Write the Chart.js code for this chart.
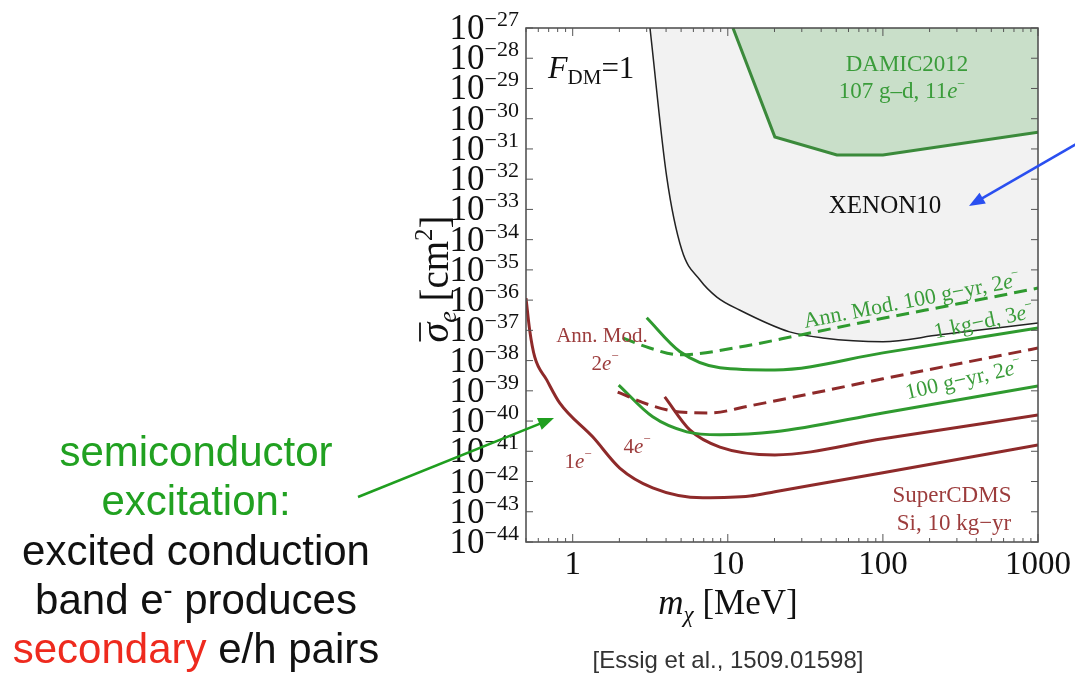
<!DOCTYPE html>
<html>
<head>
<meta charset="utf-8">
<script src="https://cdn.jsdelivr.net/npm/chart.js@4.4.0/dist/chart.umd.min.js"></script>
<style>
  html, body { margin: 0; padding: 0; background: #fff; }
  #wrap { width: 1075px; height: 679px; }
</style>
</head>
<body>
<div id="wrap"><canvas id="limitChart" width="1075" height="679"></canvas></div>
<script>
// assi
const xTickValues = [1, 10, 100, 1000];
const xTickLabels = ['1', '10', '100', '1000'];
const xMinorTicks = [0.5, 0.6, 0.7, 0.8, 0.9, 2, 3, 4, 5, 6, 7, 8, 9, 20, 30, 40, 50, 60, 70, 80, 90, 200, 300, 400, 500, 600, 700, 800, 900];
const yTickExponents = [-27, -28, -29, -30, -31, -32, -33, -34, -35, -36, -37, -38, -39, -40, -41, -42, -43, -44];

// XENON10 (zona grigia)
const xenonMass = [3.15, 4.04, 5.05, 6.6, 8.5, 11.9, 25, 41, 100, 233, 1000];
const xenonSigma = [1e-27, 1.17e-32, 4.6e-35, 4.7e-36, 1.26e-36, 4.7e-37, 8.9e-38, 5.6e-38, 4.2e-38, 7.1e-38, 1.74e-37];

// DAMIC2012
const damicMass = [10.8, 20.1, 50.5, 100, 1000];
const damicSigma = [1e-27, 2.5e-31, 6.3e-32, 6.3e-32, 3.6e-31];

// Ann. Mod. 100 g-yr, 2e (verde tratteggiata)
const amGreenMass = [2.1, 3.14, 4.9, 11.9, 30, 100, 300, 1000];
const amGreenSigma = [5.6e-38, 2.6e-38, 1.55e-38, 2.8e-38, 7.2e-38, 2.5e-37, 7.4e-37, 2.5e-36];

// 1 kg-d, 3e (verde)
const kgdMass = [3.0, 4.9, 8.9, 20.1, 100, 1000];
const kgdSigma = [2.6e-37, 2.0e-38, 5.8e-39, 4.9e-39, 1.8e-38, 1.2e-37];

// Ann. Mod. 2e (rossa tratteggiata)
const amRedMass = [1.95, 3.14, 4.9, 7.65, 13.9, 100, 1000];
const amRedSigma = [9.1e-40, 3.4e-40, 2.0e-40, 1.86e-40, 3.2e-40, 2.5e-39, 2.6e-38];

// 100 g-yr, 2e (verde)
const gyrMass = [1.98, 3.28, 5.44, 8.9, 20.1, 100, 1000];
const gyrSigma = [1.55e-39, 1.38e-40, 4.4e-41, 3.5e-41, 4.4e-41, 1.86e-40, 1.45e-39];

// SuperCDMS 4e
const cdms4Mass = [3.92, 5.69, 8.9, 20.1, 100, 1000];
const cdms4Sigma = [6.3e-40, 5.1e-41, 1.38e-41, 7.6e-42, 2.6e-41, 1.58e-40];

// SuperCDMS 1e
const cdms1Mass = [0.5, 0.528, 0.569, 0.68, 0.824, 1.35, 2.01, 3.28, 6.9, 13.9, 20.1, 100, 1000];
const cdms1Sigma = [1.17e-36, 1.02e-37, 1.32e-38, 2.3e-39, 4.0e-40, 2.95e-41, 2.8e-42, 6.2e-43, 2.9e-43, 3.3e-43, 4.6e-43, 1.95e-42, 1.62e-41];

const GREEN = '#2f9a2f';
const DARKGREEN = '#3b8a3b';
const RED = '#8e2a2a';
const REDTXT = '#9c3c3c';
const GREENTXT = '#3a9c3a';

function pts(m, s) {
  return m.map((v, i) => ({ x: v, y: s[i] }));
}

const serif = '"Liberation Serif", "DejaVu Serif", serif';
const sans = '"Liberation Sans", "DejaVu Sans", sans-serif';
function f(size, italic) { return (italic ? 'italic ' : '') + size + 'px ' + serif; }

// runs: [testo, size, italic, dy, colore]
function drawRuns(ctx, x, y, runs, align) {
  let w = 0;
  runs.forEach(r => { ctx.font = f(r[1], r[2]); w += ctx.measureText(r[0]).width; });
  let cx = align === 'center' ? x - w / 2 : (align === 'right' ? x - w : x);
  ctx.textAlign = 'left';
  runs.forEach(r => {
    ctx.font = f(r[1], r[2]);
    if (r[4]) ctx.fillStyle = r[4];
    ctx.fillText(r[0], cx, y + (r[3] || 0));
    cx += ctx.measureText(r[0]).width;
  });
  return w;
}

function rotRuns(ctx, x, y, deg, runs) {
  ctx.save();
  ctx.translate(x, y);
  ctx.rotate(deg * Math.PI / 180);
  drawRuns(ctx, 0, 0, runs, 'center');
  ctx.restore();
}

function arrow(ctx, x1, y1, x2, y2, color, w) {
  const a = Math.atan2(y2 - y1, x2 - x1), h = 17;
  ctx.strokeStyle = color; ctx.fillStyle = color; ctx.lineWidth = w;
  ctx.beginPath();
  ctx.moveTo(x1, y1);
  ctx.lineTo(x2 - h * 0.8 * Math.cos(a), y2 - h * 0.8 * Math.sin(a));
  ctx.stroke();
  ctx.beginPath();
  ctx.moveTo(x2, y2);
  ctx.lineTo(x2 - h * Math.cos(a - 0.38), y2 - h * Math.sin(a - 0.38));
  ctx.lineTo(x2 - h * Math.cos(a + 0.38), y2 - h * Math.sin(a + 0.38));
  ctx.closePath();
  ctx.fill();
}

function sansLine(ctx, x, y, parts) {
  let w = 0;
  parts.forEach(p => { ctx.font = (p[2] || 42) + 'px ' + sans; w += ctx.measureText(p[0]).width; });
  let cx = x - w / 2;
  parts.forEach(p => {
    ctx.font = (p[2] || 42) + 'px ' + sans;
    ctx.fillStyle = p[1];
    ctx.fillText(p[0], cx, y + (p[3] || 0));
    cx += ctx.measureText(p[0]).width;
  });
}

const framePlugin = {
  id: 'framePlugin',
  afterDraw(chart) {
    const ctx = chart.ctx;
    const a = chart.chartArea;
    const xs = chart.scales.x, ys = chart.scales.y;
    ctx.save();
    ctx.textBaseline = 'alphabetic';

    // cornice
    ctx.strokeStyle = '#4a4a4a';
    ctx.lineWidth = 1.5;
    ctx.strokeRect(a.left, a.top, a.right - a.left, a.bottom - a.top);

    // tacche x
    ctx.lineWidth = 1;
    ctx.strokeStyle = '#555';
    xMinorTicks.forEach(v => {
      const px = xs.getPixelForValue(v);
      ctx.beginPath();
      ctx.moveTo(px, a.bottom); ctx.lineTo(px, a.bottom - 4);
      ctx.moveTo(px, a.top); ctx.lineTo(px, a.top + 4);
      ctx.stroke();
    });
    xTickValues.forEach(v => {
      const px = xs.getPixelForValue(v);
      ctx.beginPath();
      ctx.moveTo(px, a.bottom); ctx.lineTo(px, a.bottom - 8);
      ctx.moveTo(px, a.top); ctx.lineTo(px, a.top + 8);
      ctx.stroke();
    });
    // tacche y
    ys.ticks.forEach(t => {
      const py = ys.getPixelForValue(t.value);
      ctx.beginPath();
      ctx.moveTo(a.left, py); ctx.lineTo(a.left + 7, py);
      ctx.moveTo(a.right, py); ctx.lineTo(a.right - 7, py);
      ctx.stroke();
    });

    // etichette x
    xTickValues.forEach((v, i) => {
      const px = xs.getPixelForValue(v);
      drawRuns(ctx, px, a.bottom + 32, [[xTickLabels[i], 33, false, 0, '#111']], 'center');
    });
    // etichette y
    yTickExponents.forEach(e => {
      const py = ys.getPixelForValue(Math.pow(10, e));
      drawRuns(ctx, 519, py + 11, [['10', 35, false, 0, '#111'], ['\u2212' + Math.abs(e), 22, false, -13, '#111']], 'right');
    });

    // titoli assi
    drawRuns(ctx, 728, 614, [['m', 35, true, 0, '#111'], ['\u03C7', 23, true, 8], [' [MeV]', 35, false, 0]], 'center');
    ctx.save();
    ctx.translate(448, 279);
    ctx.rotate(-Math.PI / 2);
    const w = drawRuns(ctx, 0, 0, [['\u03C3', 40, true, 0, '#111'], ['e', 26, true, 8], [' [cm', 39, false, 0], ['2', 25, false, -16], [']', 39, false, 0]], 'center');
    ctx.strokeStyle = '#111'; ctx.lineWidth = 1.8;
    ctx.beginPath(); ctx.moveTo(-w / 2 + 1, -28); ctx.lineTo(-w / 2 + 20, -28); ctx.stroke();
    ctx.restore();

    // citazione
    ctx.font = '24px ' + sans;
    ctx.fillStyle = '#333';
    ctx.textAlign = 'center';
    ctx.fillText('[Essig et al., 1509.01598]', 728, 668);

    // annotazioni nel grafico
    drawRuns(ctx, 548, 78, [['F', 32, true, 0, '#111'], ['DM', 21, false, 6], ['=1', 31, false, 0]], 'left');
    drawRuns(ctx, 907, 71, [['DAMIC2012', 23, false, 0, GREENTXT]], 'center');
    drawRuns(ctx, 902, 98, [['107 g\u2013d, 11', 23, false, 0, GREENTXT], ['e', 23, true, 0], ['\u2212', 14, false, -10]], 'center');
    drawRuns(ctx, 885, 213, [['XENON10', 25, false, 0, '#111']], 'center');
    drawRuns(ctx, 952, 502, [['SuperCDMS', 23, false, 0, REDTXT]], 'center');
    drawRuns(ctx, 954, 530, [['Si, 10 kg\u2212yr', 23, false, 0, REDTXT]], 'center');
    drawRuns(ctx, 602, 342, [['Ann. Mod.', 21, false, 0, REDTXT]], 'center');
    drawRuns(ctx, 605, 370, [['2', 21, false, 0, REDTXT], ['e', 21, true, 0], ['\u2212', 13, false, -10]], 'center');
    drawRuns(ctx, 637, 453, [['4', 21, false, 0, REDTXT], ['e', 21, true, 0], ['\u2212', 13, false, -10]], 'center');
    drawRuns(ctx, 578, 468, [['1', 21, false, 0, REDTXT], ['e', 21, true, 0], ['\u2212', 13, false, -10]], 'center');
    rotRuns(ctx, 913, 307, -11, [['Ann. Mod. 100 g\u2212yr, 2', 22, false, 0, GREENTXT], ['e', 22, true, 0], ['\u2212', 13, false, -10]]);
    rotRuns(ctx, 985, 328, -12, [['1 kg\u2212d, 3', 22, false, 0, GREENTXT], ['e', 22, true, 0], ['\u2212', 13, false, -10]]);
    rotRuns(ctx, 965, 386, -13, [['100 g\u2212yr, 2', 22, false, 0, GREENTXT], ['e', 22, true, 0], ['\u2212', 13, false, -10]]);

    // frecce
    arrow(ctx, 1078, 143, 969, 206, '#2a4ff0', 2.5);
    arrow(ctx, 358, 497, 554, 418, '#1f9e1f', 2.5);

    // testo a sinistra
    ctx.textAlign = 'left';
    sansLine(ctx, 196, 466, [['semiconductor', '#21a121']]);
    sansLine(ctx, 196, 515, [['excitation:', '#21a121']]);
    sansLine(ctx, 196, 565, [['excited conduction', '#111']]);
    sansLine(ctx, 196, 614, [['band e', '#111'], ['-', '#111', 27, -15], [' produces', '#111']]);
    sansLine(ctx, 196, 663, [['secondary', '#ee2a1e'], [' e/h pairs', '#111']]);
    ctx.restore();
  }
};

const ctx = document.getElementById('limitChart').getContext('2d');
const chart = new Chart(ctx, {
  type: 'line',
  data: {
    datasets: [
      { label: 'XENON10', data: pts(xenonMass, xenonSigma), borderColor: '#222', borderWidth: 1.5,
        fill: 'end', backgroundColor: '#f2f2f2', cubicInterpolationMode: 'monotone', order: 10 },
      { label: 'DAMIC2012', data: pts(damicMass, damicSigma), borderColor: DARKGREEN, borderWidth: 3,
        fill: 'end', backgroundColor: 'rgba(150, 200, 150, 0.45)', tension: 0, order: 9 },
      { label: 'Ann. Mod. 100 g-yr, 2e', data: pts(amGreenMass, amGreenSigma), borderColor: GREEN, borderWidth: 3,
        borderDash: [13, 7], fill: false, cubicInterpolationMode: 'monotone' },
      { label: '1 kg-d, 3e', data: pts(kgdMass, kgdSigma), borderColor: GREEN, borderWidth: 3,
        fill: false, cubicInterpolationMode: 'monotone' },
      { label: 'Ann. Mod. 2e', data: pts(amRedMass, amRedSigma), borderColor: RED, borderWidth: 3,
        borderDash: [13, 7], fill: false, cubicInterpolationMode: 'monotone' },
      { label: '100 g-yr, 2e', data: pts(gyrMass, gyrSigma), borderColor: GREEN, borderWidth: 3,
        fill: false, cubicInterpolationMode: 'monotone' },
      { label: '4e', data: pts(cdms4Mass, cdms4Sigma), borderColor: RED, borderWidth: 3,
        fill: false, cubicInterpolationMode: 'monotone' },
      { label: '1e', data: pts(cdms1Mass, cdms1Sigma), borderColor: RED, borderWidth: 3,
        fill: false, cubicInterpolationMode: 'monotone' }
    ]
  },
  options: {
    responsive: false,
    animation: false,
    layout: { padding: { left: 526, right: 37, top: 28, bottom: 137 } },
    elements: { point: { radius: 0 } },
    plugins: { legend: { display: false }, tooltip: { enabled: false } },
    scales: {
      x: {
        type: 'logarithmic', min: 0.5, max: 1000, display: false,
        afterBuildTicks: s => { s.ticks = xTickValues.map(v => ({ value: v })); }
      },
      y: {
        type: 'logarithmic', min: 1e-44, max: 1e-27, display: false,
        afterBuildTicks: s => { s.ticks = yTickExponents.map(e => ({ value: Math.pow(10, e) })); }
      }
    }
  },
  plugins: [framePlugin]
});
</script>
</body>
</html>
